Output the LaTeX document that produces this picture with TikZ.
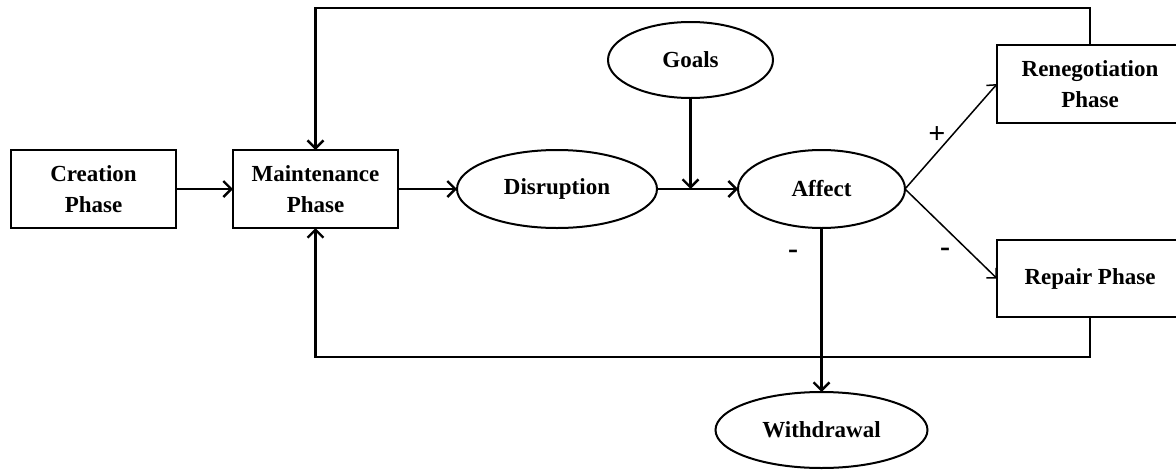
\documentclass[tikz,border=0pt]{standalone}
\usepackage{fontspec}
\setmainfont{Liberation Serif}
\usetikzlibrary{shapes.geometric,arrows.meta}

\begin{document}
\begin{tikzpicture}[x=1pt,y=-1pt,inner sep=0pt,outer sep=0pt,
  phasebox/.style={draw,line width=2.4pt,minimum width=165pt,minimum height=78pt,align=center,font=\fontsize{23}{31}\selectfont\bfseries},
  stateoval/.style={draw,ellipse,line width=2pt,align=center,font=\fontsize{23}{31}\selectfont\bfseries},
  flow/.style={line width=2.4pt,-{Straight Barb[length=8pt,width=16pt]}},
  branch/.style={line width=1.5pt,-{Straight Barb[length=7pt,width=14pt]}},
  sign/.style={font=\fontsize{30}{32}\selectfont\bfseries}]
  \useasboundingbox (0,0) rectangle (1176,472);
  \node[phasebox] (creation) at (93.5,189) {Creation\\Phase};
  \node[phasebox] (maint) at (315.5,189) {Maintenance\\Phase};
  \node[stateoval,minimum width=200pt,minimum height=78pt] (disrupt) at (557,189) {Disruption};
  \node[stateoval,minimum width=165pt,minimum height=76pt] (goals) at (690.5,60) {Goals};
  \node[stateoval,minimum width=167pt,minimum height=78pt] (affect) at (821.5,189) {Affect};
  \node[phasebox,minimum width=186pt] (reneg) at (1090,84) {Renegotiation\\Phase};
  \node[phasebox,minimum width=186pt,minimum height=77pt] (repair) at (1090,278.5) {Repair Phase};
  \node[stateoval,minimum width=212pt,minimum height=76pt] (withdraw) at (821.5,430) {Withdrawal};
  % sign labels
  \node[sign] (plus) at (937,135) {+};
  \node[sign] (minusa) at (793,254) {-};
  \node[sign] (minusb) at (945,252) {-};
  % loop corners
  \coordinate (join) at (690.5,189);
  \coordinate (topleft) at (315.5,8);
  \coordinate (botleft) at (315.5,357);
  \draw[flow] (creation) -- (maint);
  \draw[flow] (maint) -- (disrupt);
  \draw[flow] (disrupt) -- (affect);
  \draw[flow] (goals) -- (join);
  \draw[branch] (affect.east) -- (reneg.west);
  \draw[branch] (affect.east) -- (repair.west);
  \draw[flow] (affect) -- (withdraw);
  \draw[flow] (reneg.north) |- (topleft) -- (maint.north);
  \draw[flow] (repair.south) |- (botleft) -- (maint.south);
\end{tikzpicture}
\end{document}
